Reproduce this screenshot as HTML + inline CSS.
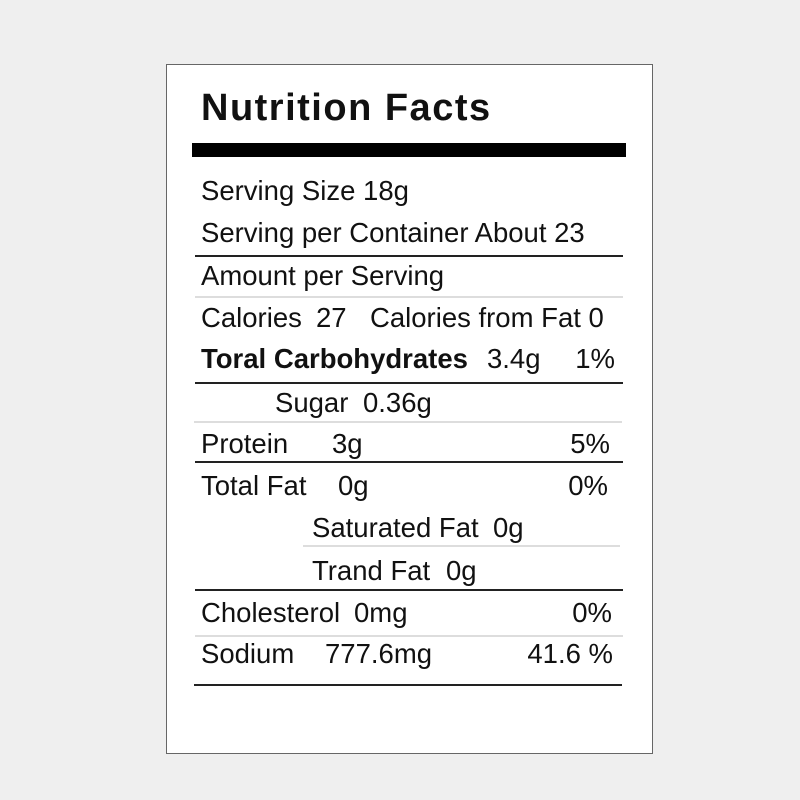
<!DOCTYPE html>
<html><head><style>
body{margin:0;width:800px;height:800px;background:#efefef;position:relative;overflow:hidden;font-family:"Liberation Sans",Arial,sans-serif;color:#111}
.card{position:absolute;left:166px;top:64px;width:485px;height:688px;background:#fff;border:1px solid #666}
.t{position:absolute;font-size:27.5px;line-height:28px;white-space:nowrap}
.r{position:absolute;font-size:27.5px;line-height:28px;white-space:nowrap;text-align:right}
.l{position:absolute;height:2px;background:#222}
.g{position:absolute;height:2px;background:#ddd}
</style></head><body>
<div class="card"></div>
<div class="t" style="left:201px;top:86px;font-size:38px;line-height:44px;font-weight:bold;letter-spacing:1.5px">Nutrition Facts</div>
<div style="position:absolute;left:192px;top:143px;width:434px;height:14px;background:#000"></div>

<div class="t" style="left:201px;top:177px">Serving Size 18g</div>
<div class="t" style="left:201px;top:219px">Serving per Container About 23</div>
<div class="l" style="left:195px;top:255px;width:428px"></div>
<div class="t" style="left:201px;top:262px">Amount per Serving</div>
<div class="g" style="left:195px;top:296px;width:428px"></div>
<div class="t" style="left:201px;top:304px">Calories</div>
<div class="t" style="left:316px;top:304px">27</div>
<div class="t" style="left:370px;top:304px">Calories from Fat 0</div>
<div class="t" style="left:201px;top:345px;font-weight:bold">Toral Carbohydrates</div>
<div class="t" style="left:487px;top:345px">3.4g</div>
<div class="r" style="right:185px;top:345px">1%</div>
<div class="l" style="left:195px;top:382px;width:428px"></div>
<div class="t" style="left:275px;top:389px">Sugar</div>
<div class="t" style="left:363px;top:389px">0.36g</div>
<div class="g" style="left:194px;top:421px;width:428px"></div>
<div class="t" style="left:201px;top:430px">Protein</div>
<div class="t" style="left:332px;top:430px">3g</div>
<div class="r" style="right:190px;top:430px">5%</div>
<div class="l" style="left:195px;top:461px;width:428px"></div>
<div class="t" style="left:201px;top:472px">Total Fat</div>
<div class="t" style="left:338px;top:472px">0g</div>
<div class="r" style="right:192px;top:472px">0%</div>
<div class="t" style="left:312px;top:514px">Saturated Fat</div>
<div class="t" style="left:493px;top:514px">0g</div>
<div class="g" style="left:303px;top:545px;width:317px"></div>
<div class="t" style="left:312px;top:557px">Trand Fat</div>
<div class="t" style="left:446px;top:557px">0g</div>
<div class="l" style="left:195px;top:589px;width:428px"></div>
<div class="t" style="left:201px;top:599px">Cholesterol</div>
<div class="t" style="left:354px;top:599px">0mg</div>
<div class="r" style="right:188px;top:599px">0%</div>
<div class="g" style="left:195px;top:635px;width:428px"></div>
<div class="t" style="left:201px;top:640px">Sodium</div>
<div class="t" style="left:325px;top:640px">777.6mg</div>
<div class="r" style="right:187px;top:640px">41.6 %</div>
<div class="l" style="left:194px;top:684px;width:428px"></div>
</body></html>
